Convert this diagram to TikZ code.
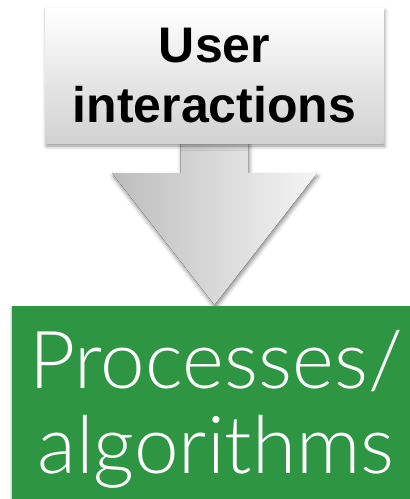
\documentclass[tikz,border=0pt]{standalone}
\usepackage{fontspec}
\setmainfont{Liberation Sans}
\newfontfamily\lightsans{Lato Light}
\usetikzlibrary{calc,shadows.blur,backgrounds}
\definecolor{boxgreen}{HTML}{2E9542}

\begin{document}
\begin{tikzpicture}[x=1pt,y=-1pt,
    inbox/.style={rectangle, top color=white, bottom color=black!18,
      minimum width=338pt, minimum height=135pt, align=center, inner sep=0pt,
      blur shadow={shadow xshift=1pt, shadow yshift=-3pt, shadow blur radius=4pt, shadow opacity=45},
      font=\bfseries\fontsize{50}{60}\selectfont},
    procbox/.style={rectangle, fill=boxgreen, text=white, align=center,
      minimum width=408pt, minimum height=206pt, inner sep=0pt,
      blur shadow={shadow xshift=0pt, shadow yshift=-2pt, shadow blur radius=3pt, shadow opacity=30},
      font=\lightsans\fontsize{80}{85}\selectfont},
    flow/.style={left color=black!26, right color=black!4, shading angle=90,
      blur shadow={shadow xshift=1pt, shadow yshift=-3pt, shadow blur radius=4pt, shadow opacity=45}}]
  \useasboundingbox (0,0) rectangle (410,499);

  \node[inbox] (user) at (214.5,75.5) {User\\interactions};
  \node[procbox] (proc) at (216,409) {Processes/\\algorithms};

  % block arrow from the top box down to the green box
  \coordinate (tip) at (proc.north -| user.south);
  \begin{scope}[on background layer]
    \fill[flow] ($(user.south)+(-34,-2)$) -- ++(0,32) -- ++(-68.5,0) -- ($(tip)+(0,-1)$)
      -- ($(user.south)+(102.5,30)$) -- ++(-68.5,0) -- ($(user.south)+(34,-2)$) -- cycle;
  \end{scope}
\end{tikzpicture}
\end{document}
